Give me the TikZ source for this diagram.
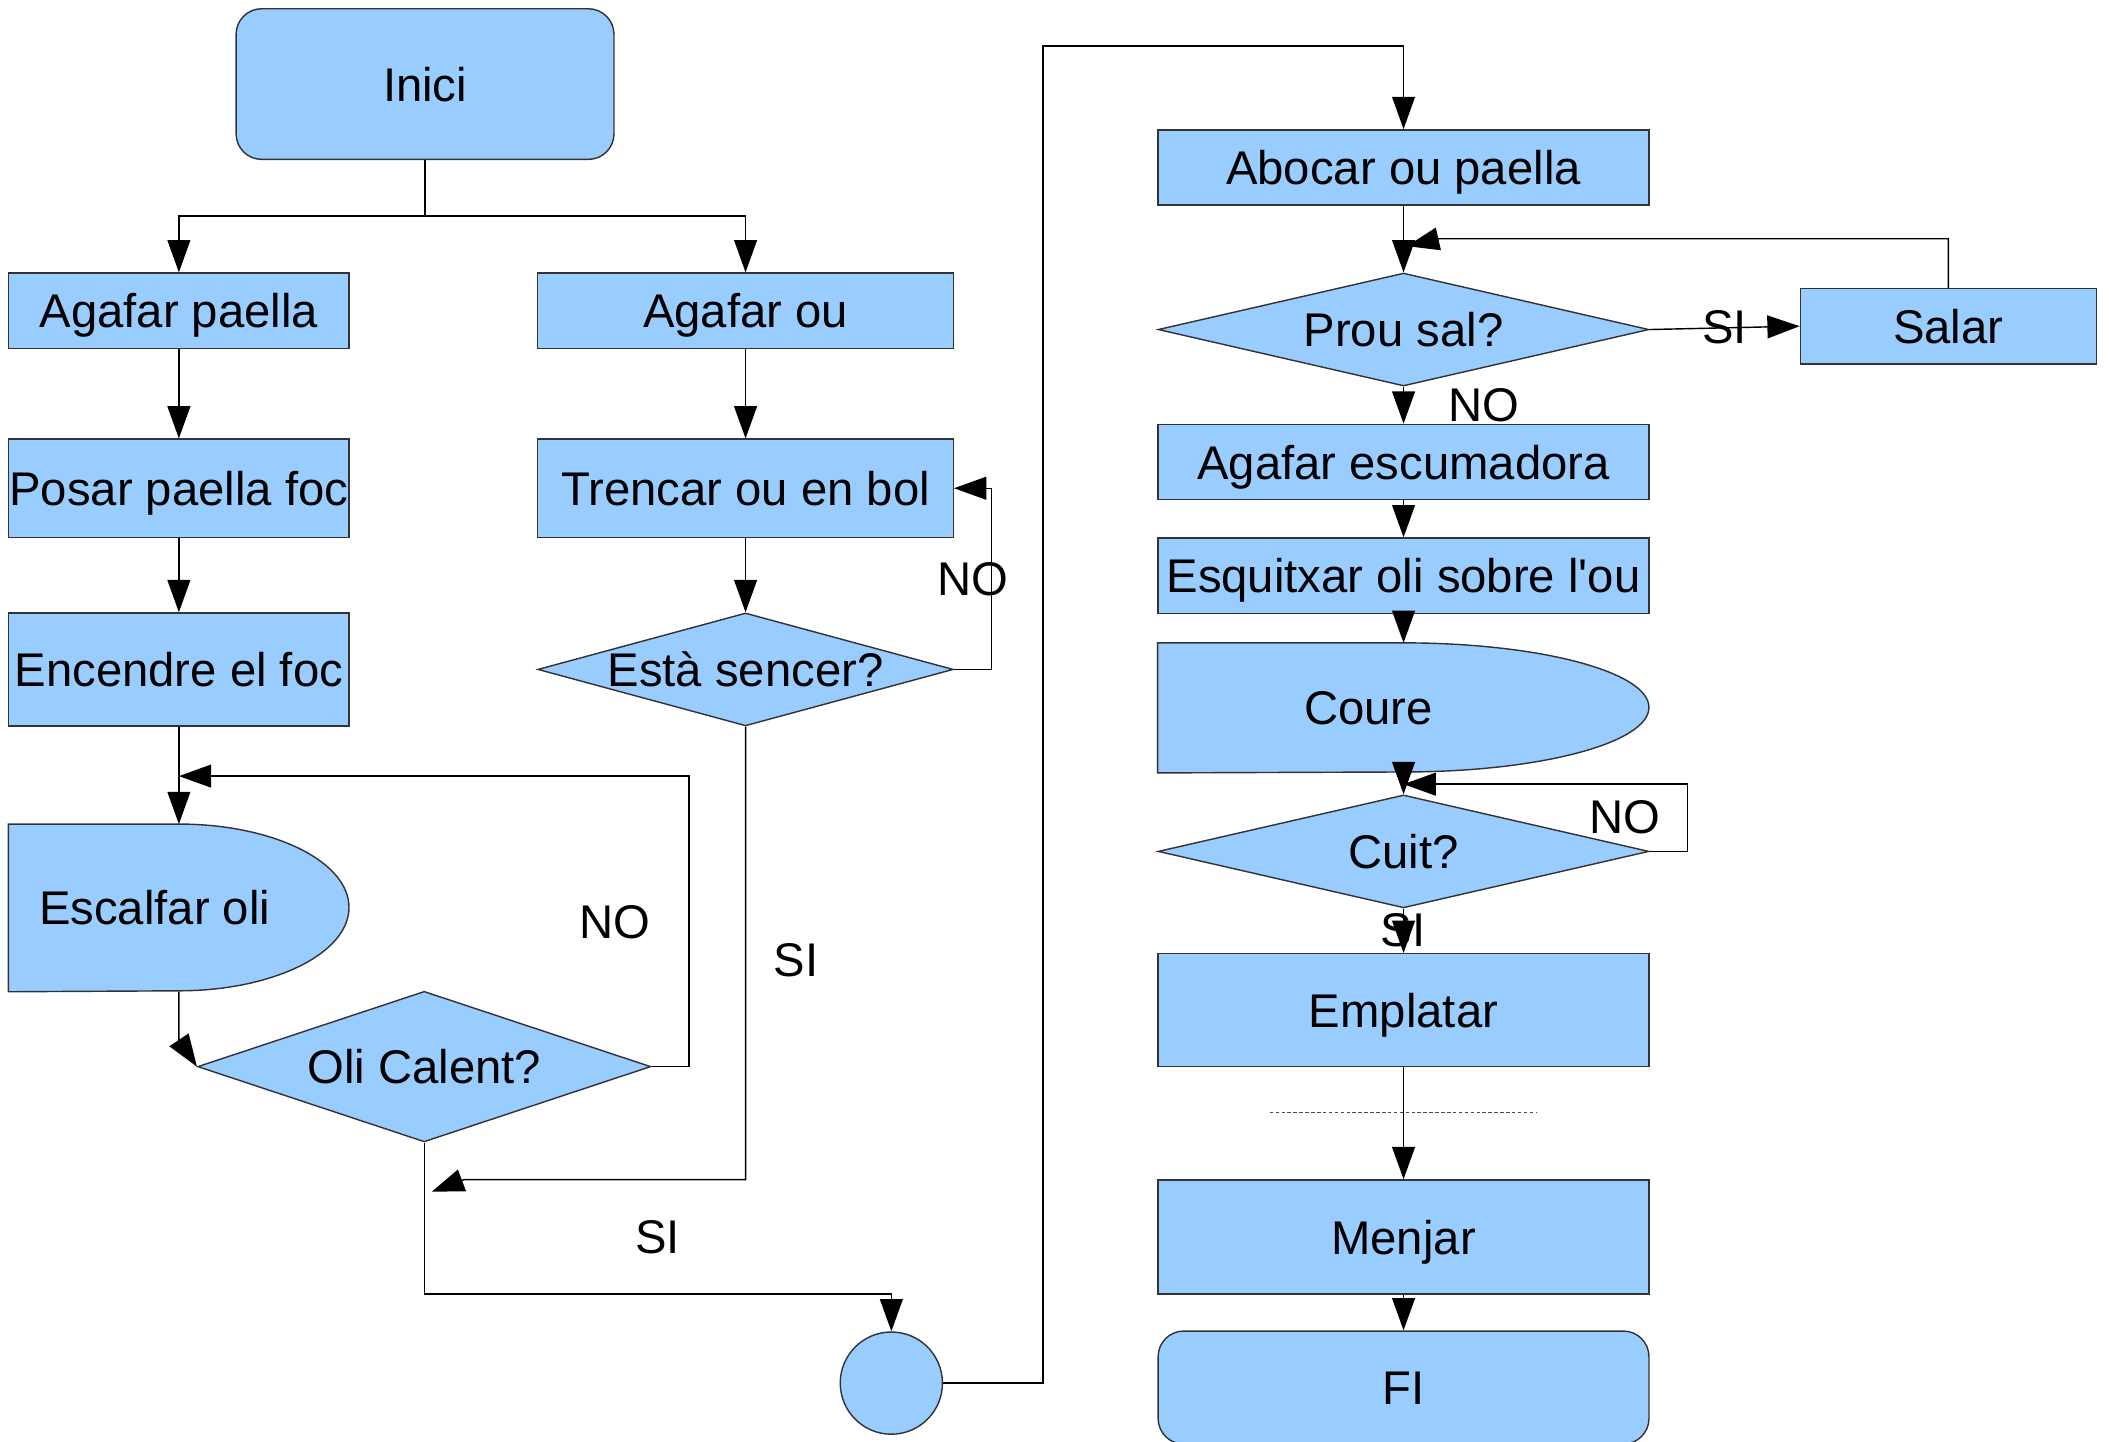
\documentclass[tikz,border=0pt]{standalone}
\usepackage{fontspec}
\setmainfont{Liberation Sans}
\usetikzlibrary{arrows.meta,shapes.geometric}
\definecolor{flowblue}{HTML}{99CCFF}
\begin{document}
\begin{tikzpicture}[x=0.02cm,y=-0.02cm,
            every node/.style={font=\fontsize{20}{24}\selectfont, inner sep=0pt, text height=18.8pt, text depth=4.4pt},
            box/.style={rectangle, draw=black!80, fill=flowblue, line width=0.6pt},
            roundbox/.style={box, rounded corners=0.38cm},
            decision/.style={diamond, draw=black!80, fill=flowblue, line width=0.6pt},
            ghost/.style={rectangle},
            delayfill/.style={draw=black!80, fill=flowblue, line width=0.6pt},
            arr/.style={-{Triangle[length=0.48cm,width=0.34cm]}, line width=0.6pt}]
            \useasboundingbox (0,0) rectangle (1568,1072);
            \node [roundbox, minimum width=5.62cm, minimum height=2.24cm] (inici) at (316,62.5) {Inici};
            \node [box, minimum width=5.06cm, minimum height=1.12cm] (paella) at (133,231) {Agafar paella};
            \node [box, minimum width=6.18cm, minimum height=1.12cm] (ou) at (554.3,231) {Agafar ou};
            \node [box, minimum width=5.06cm, minimum height=1.46cm] (posar) at (133,363) {Posar paella foc};
            \node [box, minimum width=6.18cm, minimum height=1.46cm] (trencar) at (554.3,363) {Trencar ou en bol};
            \node [box, minimum width=5.06cm, minimum height=1.68cm] (encendre) at (133,497.7) {Encendre el foc};
            \node [decision, minimum width=6.18cm, minimum height=1.68cm] (sencer) at (554.3,497.7) {\makebox[0pt]{Està sencer?}};
            \node [ghost, minimum width=5.06cm, minimum height=2.48cm] (escalfar) at (133,675) {};
            \path [delayfill] (escalfar.north west) -- (escalfar.north) arc [start angle=90, end angle=-90, x radius=2.53cm, y radius=1.24cm] -- (escalfar.south west) -- cycle;
            \node (escalfartxt) at ([xshift=-0.36cm]escalfar.center) {Escalfar oli};
            \node [decision, minimum width=6.74cm, minimum height=2.24cm] (calent) at (315.4,793) {\makebox[0pt]{Oli Calent?}};
            \node [box, circle, minimum size=1.52cm] (junta) at (662.7,1028.3) {};
            \node [box, minimum width=7.3cm, minimum height=1.12cm] (abocar) at (1043.5,124.5) {Abocar ou paella};
            \node [decision, minimum width=7.3cm, minimum height=1.68cm] (sal) at (1043.5,245) {\makebox[0pt]{Prou sal?}};
            \node [box, minimum width=4.4cm, minimum height=1.12cm] (salar) at (1448.5,242.5) {Salar};
            \node [box, minimum width=7.3cm, minimum height=1.12cm] (escumadora) at (1043.5,343.5) {Agafar escumadora};
            \node [box, minimum width=7.3cm, minimum height=1.12cm] (esquitxar) at (1043.5,428) {Esquitxar oli sobre l\textquotesingle ou};
            \node [ghost, minimum width=7.3cm, minimum height=1.92cm] (coure) at (1043.5,526.3) {};
            \path [delayfill] (coure.north west) -- (coure.north) arc [start angle=90, end angle=-90, x radius=3.65cm, y radius=0.96cm] -- (coure.south west) -- cycle;
            \node (couretxt) at ([xshift=-0.52cm]coure.center) {Coure};
            \node [decision, minimum width=7.3cm, minimum height=1.68cm] (cuit) at (1043.5,633) {\makebox[0pt]{Cuit?}};
            \node [box, minimum width=7.3cm, minimum height=1.68cm] (emplatar) at (1043.5,751) {Emplatar};
            \node [box, minimum width=7.3cm, minimum height=1.7cm] (menjar) at (1043.5,919.7) {Menjar};
            \node [roundbox, minimum width=7.3cm, minimum height=1.68cm] (fi) at (1043.5,1031.6) {FI};
            \draw [black!70, line width=0.4pt, dash pattern=on 1.5pt off 1pt] (944,827) -- (1142,827);
            \coordinate (split) at (316,160.5);
            \draw [arr] (inici.south) -- (split) -| (paella.north);
            \draw [arr] (split) -| (ou.north);
            \draw [arr] (paella) -- (posar);
            \draw [arr] (posar) -- (encendre);
            \draw [arr] (encendre) -- (escalfar);
            \draw [arr] (ou) -- (trencar);
            \draw [arr] (trencar) -- (sencer);
            \coordinate (bend1) at (133,773);
            \draw [arr] (escalfar.south) -- (bend1) -- (calent.west);
            \coordinate (oliret) at (133,577);
            \draw [arr] (calent.east) -- ++(28,0) |- (oliret);
            \draw [arr] (sencer.east) -- ++(28,0) |- (trencar.east);
            \coordinate (sibend) at (345,877);
            \coordinate (sitip) at (321,886);
            \draw [arr] (sencer.south) |- (sibend) -- (sitip);
            \draw [arr] (calent.south) -- ++(0,112.5) -| (junta.north);
            \coordinate (topbend) at (775.5,34.3);
            \draw [arr] (junta.east) -| (topbend) -| (abocar.north);
            \draw [arr] (abocar) -- (sal);
            \draw [arr] (sal.east) -- (salar.west);
            \coordinate (salbend) at (1070,177.5);
            \coordinate (saltip) at (1046,183);
            \draw [arr] (salar.north) |- (salbend) -- (saltip);
            \draw [arr] (sal) -- (escumadora);
            \draw [arr] (escumadora) -- (esquitxar);
            \draw [arr] (esquitxar) -- (coure);
            \draw [arr] (coure) -- (cuit);
            \coordinate (cuitret) at (1043.5,583);
            \draw [arr] (cuit.east) -- ++(28,0) |- (cuitret);
            \draw [arr] (cuit) -- (emplatar);
            \draw [arr] (emplatar) -- (menjar);
            \draw [arr] (menjar) -- (fi);
            \node (no1) at (457,685) {NO};
            \node (si1) at (592,713) {SI};
            \node (no2) at (723,430) {NO};
            \node (si2) at (489,919) {SI};
            \node (si3) at (1282,243) {SI};
            \node (no3) at (1103,301) {NO};
            \node (no4) at (1208,607) {NO};
            \node (si4) at (1043,691) {SI};
\end{tikzpicture}
\end{document}
